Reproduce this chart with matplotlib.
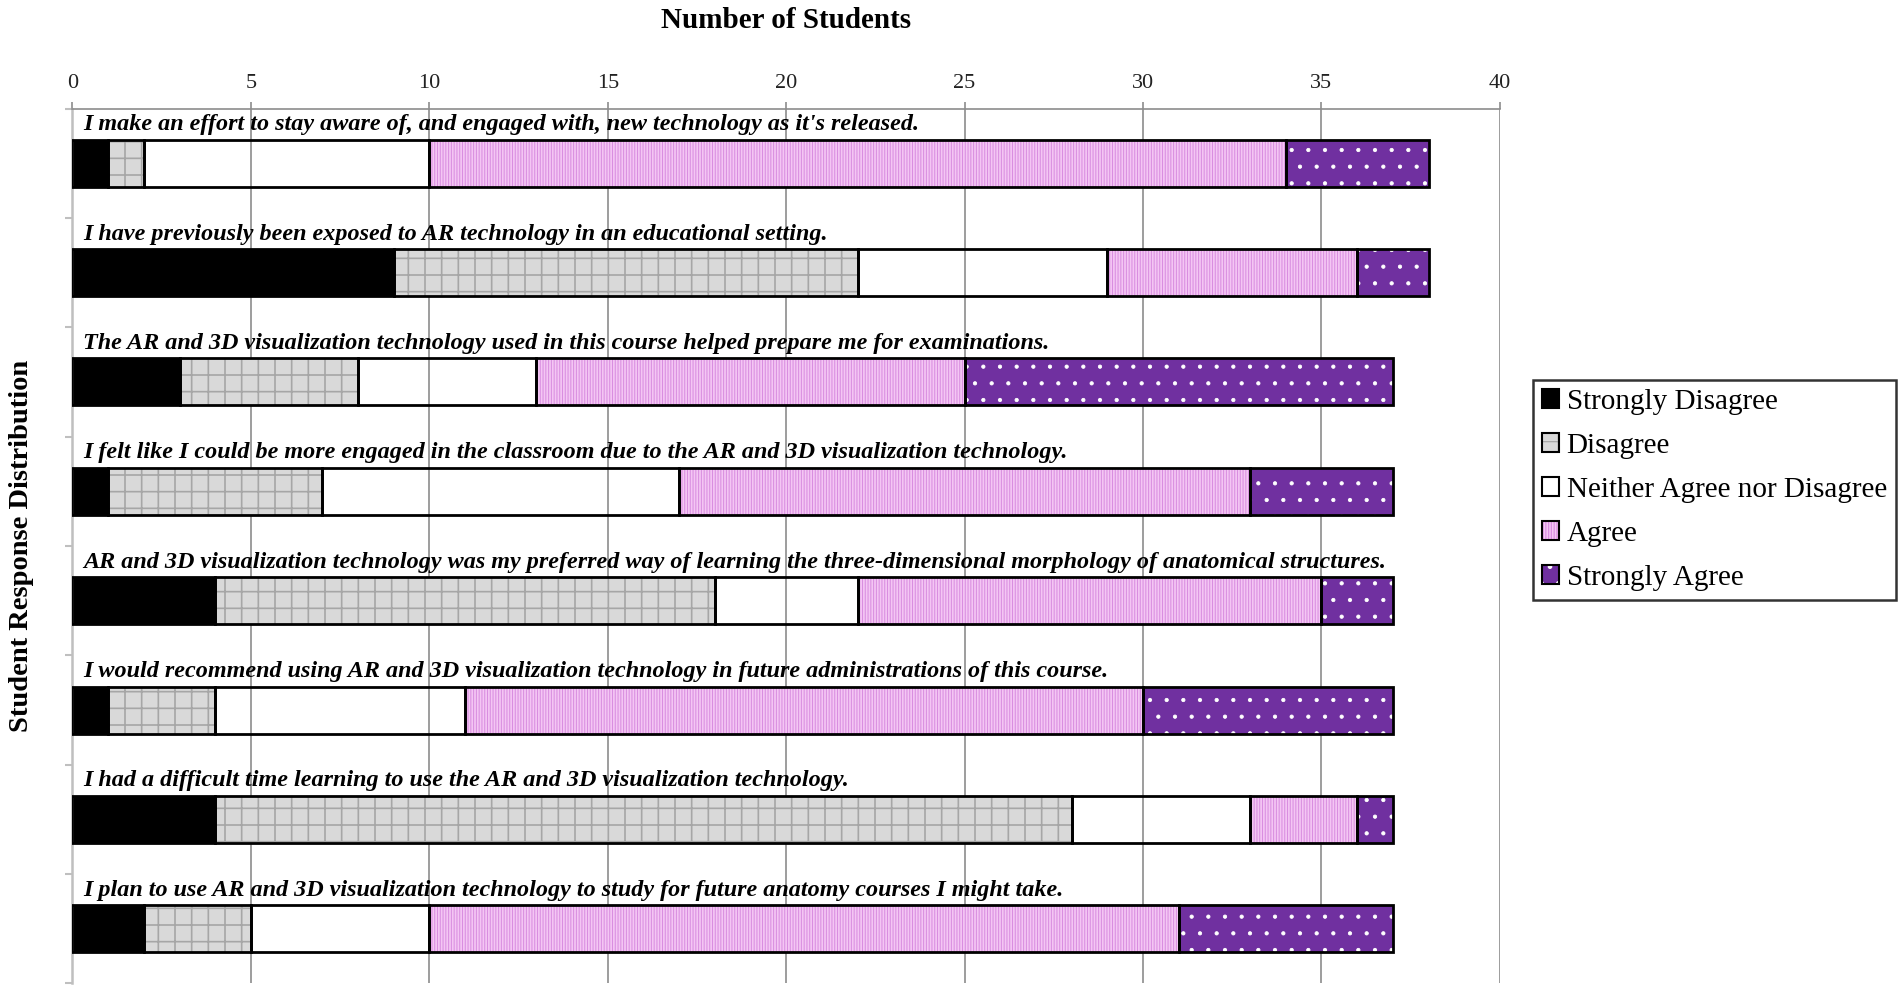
"""Stacked Likert bar chart of student responses to AR / 3D visualization survey."""

from __future__ import annotations

import matplotlib

matplotlib.use("Agg")
import matplotlib.pyplot as plt
import numpy as np
from matplotlib.legend_handler import HandlerTuple
from matplotlib.patches import Patch

plt.rcParams["font.family"] = ["Liberation Serif", "DejaVu Serif"]
plt.rcParams["hatch.linewidth"] = 0.9

QUESTIONS = [
    "I make an effort to stay aware of, and engaged with, new technology as it's released.",
    "I have previously been exposed to AR technology in an educational setting.",
    "The AR and 3D visualization technology used in this course helped prepare me for examinations.",
    "I felt like I could be more engaged in the classroom due to the AR and 3D visualization technology.",
    "AR and 3D visualization technology was my preferred way of learning the three-dimensional "
    "morphology of anatomical structures.",
    "I would recommend using AR and 3D visualization technology in future administrations of this course.",
    "I had a difficult time learning to use the AR and 3D visualization technology.",
    "I plan to use AR and 3D visualization technology to study for future anatomy courses I might take.",
]

LEVELS = [
    "Strongly Disagree",
    "Disagree",
    "Neither Agree nor Disagree",
    "Agree",
    "Strongly Agree",
]

strongly_disagree = [1, 9, 3, 1, 4, 1, 4, 2]
disagree = [1, 13, 5, 6, 14, 3, 24, 3]
neither = [8, 7, 5, 10, 4, 7, 5, 5]
agree = [24, 7, 12, 16, 13, 19, 3, 21]
strongly_agree = [4, 2, 12, 4, 2, 7, 1, 6]

X_TICKS = [0, 5, 10, 15, 20, 25, 30, 35, 40]

# face colour, hatch colour, hatch pattern, hatch linewidth
STYLES = [
    ("#000000", "#000000", None, 0.9),
    ("#d9d9d9", "#a6a6a6", "+", 1.2),
    ("none", "none", None, 0.9),
    ("#f4c6f4", "#d98ee0", "||||||", 0.75),
    ("#7030a0", "#ffffff", ".", 0.6),
]

GRID_GRAY = "#8c8c8c"
AXIS_GRAY = "#bfbfbf"
BAR_HEIGHT = 0.43


def main() -> None:
    series = [strongly_disagree, disagree, neither, agree, strongly_agree]
    y = np.arange(len(QUESTIONS))

    fig = plt.figure(figsize=(19.02, 9.92), dpi=100)
    ax = fig.add_axes([0.0381, 0.0086, 0.7505, 0.882])

    left = np.zeros(len(QUESTIONS))
    handles = []
    for values, label, (face, hcol, hatch, hlw) in zip(series, LEVELS, STYLES):
        values = np.asarray(values, dtype=float)
        fill = ax.barh(y, values, left=left, height=BAR_HEIGHT, color=face,
                       edgecolor=hcol, linewidth=0, hatch=hatch, zorder=2)
        for p in fill:
            if hasattr(p, "set_hatch_linewidth"):
                p.set_hatch_linewidth(hlw)
        ax.barh(y, values, left=left, height=BAR_HEIGHT, fill=False,
                edgecolor="black", linewidth=2.0, zorder=3)
        left += values

        h_fill = Patch(facecolor=face if face != "none" else "white",
                       edgecolor=hcol, hatch=hatch, linewidth=0)
        h_edge = Patch(facecolor="none", edgecolor="black", linewidth=1.5)
        handles.append((h_fill, h_edge))

    for i, q in enumerate(QUESTIONS):
        ax.text(0.3, i - 0.352, q, ha="left", va="center", fontsize=17.4,
                fontweight="bold", fontstyle="italic", zorder=4)

    ax.set_xlim(0, 40)
    ax.set_ylim(len(QUESTIONS) - 0.5, -0.5)

    ax.xaxis.tick_top()
    ax.xaxis.set_label_position("top")
    ax.set_xticks(X_TICKS)
    ax.tick_params(axis="x", colors=GRID_GRAY, labelcolor="#222222",
                   labelsize=16, length=5, width=1.2, pad=6)
    ax.set_xlabel("Number of Students", fontsize=21, fontweight="bold",
                  labelpad=33)

    ax.set_yticks(np.arange(len(QUESTIONS) + 1) - 0.5)
    ax.set_yticklabels([])
    ax.tick_params(axis="y", colors=AXIS_GRAY, length=5, width=1.5)
    ax.set_ylabel("Student Response Distribution", fontsize=20.5,
                  fontweight="bold", labelpad=19)

    ax.grid(axis="x", color=GRID_GRAY, linewidth=1.2, zorder=0)
    ax.set_axisbelow(True)
    for side in ("right", "bottom"):
        ax.spines[side].set_visible(False)
    ax.spines["top"].set_color(GRID_GRAY)
    ax.spines["top"].set_linewidth(1.2)
    ax.spines["left"].set_color(AXIS_GRAY)
    ax.spines["left"].set_linewidth(1.8)

    leg = fig.legend(
        handles, LEVELS,
        handler_map={tuple: HandlerTuple(ndivide=1)},
        loc="upper left", bbox_to_anchor=(0.806, 0.617),
        fontsize=21, frameon=True, fancybox=False, edgecolor="black",
        handlelength=0.6, handleheight=0.6, handletextpad=0.25,
        labelspacing=0.62, borderpad=0.3, borderaxespad=0,
    )
    leg.get_frame().set_linewidth(1.8)

    fig.savefig("out.png", dpi=100, facecolor="white")
    plt.close(fig)


if __name__ == "__main__":
    main()
